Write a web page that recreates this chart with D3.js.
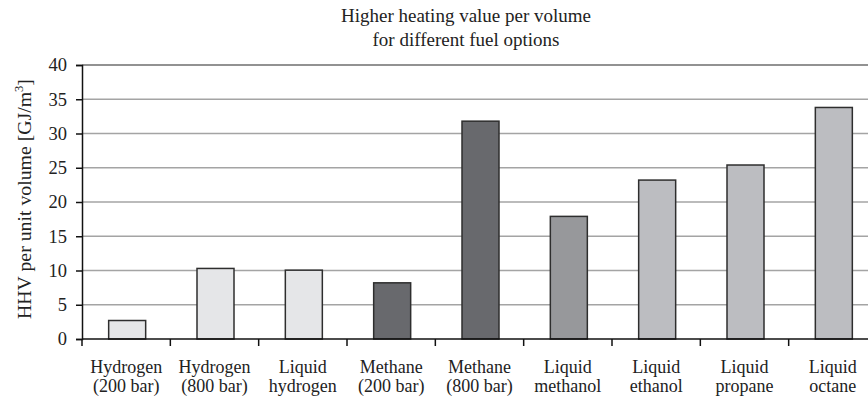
<!DOCTYPE html>
<html>
<head>
<meta charset="utf-8">
<script src="https://d3js.org/d3.v7.min.js"></script>
<style>
  html, body { margin: 0; padding: 0; background: #fff; }
  svg { display: block; font-family: "Liberation Serif", "Times New Roman", serif; }
</style>
</head>
<body>
<div id="chart"></div>
<script>
// data
var fuels = [
  ["Hydrogen", "(200 bar)"],
  ["Hydrogen", "(800 bar)"],
  ["Liquid", "hydrogen"],
  ["Methane", "(200 bar)"],
  ["Methane", "(800 bar)"],
  ["Liquid", "methanol"],
  ["Liquid", "ethanol"],
  ["Liquid", "propane"],
  ["Liquid", "octane"]
];
var hhv = [2.7, 10.3, 10.05, 8.2, 31.8, 17.9, 23.2, 25.4, 33.8];
var groups = ["h2", "h2", "h2", "ch4", "ch4", "meoh", "liq", "liq", "liq"];
var yTicks = [0, 5, 10, 15, 20, 25, 30, 35, 40];
var titleLines = ["Higher heating value per volume", "for different fuel options"];

var fillFor = { h2: "#e5e6e8", ch4: "#68696d", meoh: "#97989b", liq: "#bcbdc1" };

var W = 868, H = 400;
var margin = { left: 82, top: 65, bottom: 61 };
var plotRight = 877; // plot runs slightly past the picture edge
var serif = "Liberation Serif, Times New Roman, serif";

var svg = d3.select("#chart").append("svg")
  .attr("width", W).attr("height", H);

var x = d3.scaleBand()
  .domain(d3.range(fuels.length))
  .range([margin.left, plotRight])
  .paddingInner(0).paddingOuter(0);

var y = d3.scaleLinear()
  .domain([0, 40])
  .range([H - margin.bottom, margin.top]);

// gridlines
svg.append("g")
  .selectAll("line")
  .data(yTicks.filter(function(d) { return d > 0; }))
  .join("line")
  .attr("x1", margin.left).attr("x2", plotRight)
  .attr("y1", function(d) { return y(d); })
  .attr("y2", function(d) { return y(d); })
  .attr("stroke", function(d) { return d === 40 ? "#6e6e6e" : "#a4a4a4"; })
  .attr("stroke-width", 1.5);

// bars
var bw = 37;
svg.append("g")
  .selectAll("rect")
  .data(hhv)
  .join("rect")
  .attr("x", function(d, i) { return x(i) + x.bandwidth() / 2 - bw / 2 + 1; })
  .attr("y", function(d) { return y(d); })
  .attr("width", bw)
  .attr("height", function(d) { return y(0) - y(d); })
  .attr("fill", function(d, i) { return fillFor[groups[i]]; })
  .attr("stroke", "#2e2e2e")
  .attr("stroke-width", 1.5);

// y axis
var yAxis = svg.append("g")
  .attr("transform", "translate(" + margin.left + ",0)")
  .call(d3.axisLeft(y).tickValues(yTicks).tickSize(6).tickPadding(9));
yAxis.select(".domain").attr("stroke", "#111").attr("stroke-width", 1.5);
yAxis.selectAll(".tick line").attr("stroke", "#111").attr("stroke-width", 1.5);
yAxis.selectAll("text")
  .attr("font-size", 18.5).attr("fill", "#222")
  .attr("font-family", serif);

// x axis (tick marks at category boundaries)
var xAxisG = svg.append("g");
xAxisG.append("line")
  .attr("x1", margin.left).attr("x2", plotRight)
  .attr("y1", y(0)).attr("y2", y(0))
  .attr("stroke", "#111").attr("stroke-width", 1.5);
xAxisG.selectAll("line.tk")
  .data(d3.range(fuels.length + 1))
  .join("line")
  .attr("class", "tk")
  .attr("x1", function(i) { return margin.left + i * x.bandwidth(); })
  .attr("x2", function(i) { return margin.left + i * x.bandwidth(); })
  .attr("y1", y(0)).attr("y2", y(0) + 7)
  .attr("stroke", "#111").attr("stroke-width", 1.5);

var labels = svg.append("g")
  .selectAll("text")
  .data(fuels)
  .join("text")
  .attr("text-anchor", "middle")
  .attr("font-family", serif)
  .attr("font-size", 18)
  .attr("fill", "#222");
labels.each(function(d, i) {
  var t = d3.select(this);
  d.forEach(function(line, k) {
    t.append("tspan")
      .attr("x", x(i) + x.bandwidth() / 2)
      .attr("y", 372.5 + k * 19.5)
      .text(line);
  });
});

// title
svg.append("g")
  .selectAll("text")
  .data(titleLines)
  .join("text")
  .attr("x", 466)
  .attr("y", function(d, i) { return 22 + i * 24; })
  .attr("text-anchor", "middle")
  .attr("font-family", serif)
  .attr("font-size", 19)
  .attr("fill", "#222")
  .text(function(d) { return d; });

// y axis label
var yl = svg.append("text")
  .attr("transform", "translate(31," + 199 + ") rotate(-90)")
  .attr("text-anchor", "middle")
  .attr("font-family", serif)
  .attr("font-size", 19.8)
  .attr("fill", "#222");
yl.append("tspan").text("HHV per unit volume [GJ/m");
yl.append("tspan").attr("font-size", 12.5).attr("dy", -8).text("3");
yl.append("tspan").attr("dy", 8).text("]");
</script>
</body>
</html>
